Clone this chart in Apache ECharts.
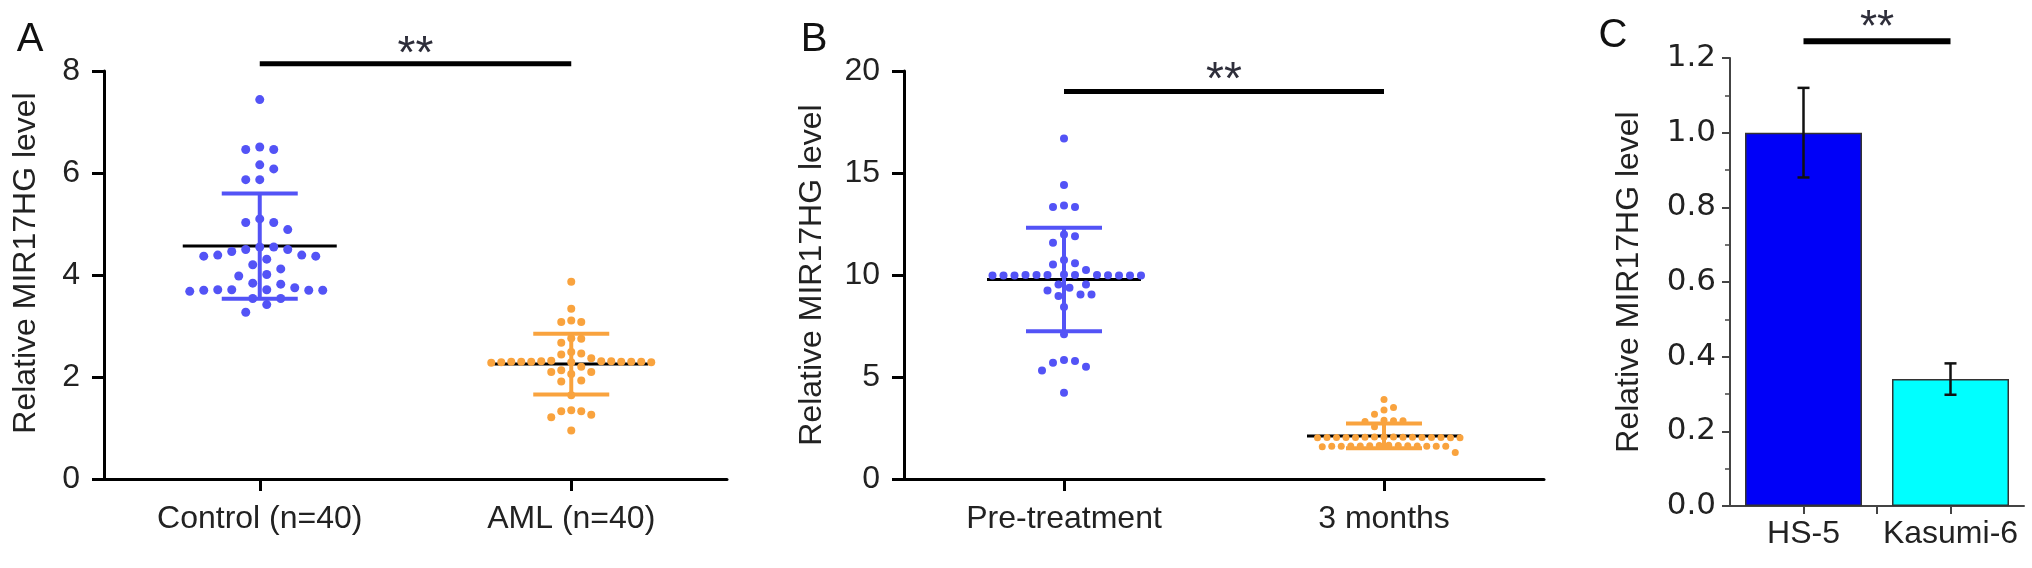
<!DOCTYPE html>
<html>
<head>
<meta charset="utf-8">
<title>Relative MIR17HG level</title>
<script src="https://cdn.jsdelivr.net/npm/echarts@6/dist/echarts.min.js"></script>
<style>
  html, body { margin: 0; padding: 0; background: #fff; }
  #main { width: 2032px; height: 568px; }
</style>
</head>
<body>
<div id="main"></div>
<script>
// ---- panel A: patients vs controls
var groupsA = ['Control (n=40)', 'AML (n=40)'];
var controlA = [7.44, 6.46, 6.46, 6.51, 6.08, 6.16, 5.87, 5.87, 5.10, 5.03,
  5.03, 4.89, 4.50, 4.46, 4.55, 4.55, 4.50, 4.39, 4.31, 4.37,
  4.37, 4.39, 4.12, 4.20, 3.98, 4.01, 3.84, 3.82, 3.68, 3.71,
  3.70, 3.71, 3.75, 3.70, 3.70, 3.71, 3.54, 3.42, 3.54, 3.27];
var amlA = [3.87, 3.34, 3.08, 3.11, 3.08, 2.75, 2.67, 2.76, 2.49, 2.46,
  2.44, 2.31, 2.30, 2.30, 2.29, 2.31, 2.30, 2.28, 2.30, 2.31,
  2.29, 2.30, 2.32, 2.30, 2.29, 2.37, 2.13, 2.20, 2.06, 2.10,
  2.10, 1.91, 1.93, 1.64, 1.33, 1.21, 1.26, 1.35, 1.33, 0.95];

// ---- panel B: before / after treatment
var groupsB = ['Pre-treatment', '3 months'];
var preB = [16.69, 14.41, 13.41, 13.33, 13.33, 11.58, 11.90, 11.99, 10.57, 10.73,
  10.52, 10.24, 10.00, 9.98, 9.97, 10.00, 10.02, 9.98, 10.00, 9.97,
  9.99, 10.00, 9.98, 9.97, 10.00, 9.54, 9.54, 9.37, 9.24, 9.05,
  9.05, 8.97, 8.43, 7.09, 5.78, 5.70, 5.50, 5.83, 5.32, 4.23];
var monthsB = [3.90, 3.51, 3.38, 3.17, 2.85, 2.88, 2.82, 2.86, 2.56,
  2.04, 2.06, 2.02, 2.05, 2.03, 2.04, 2.06, 2.02, 2.04, 2.05,
  2.03, 2.04, 2.06, 2.02, 2.04, 2.05,
  1.62, 1.60, 1.64, 1.61, 1.63, 1.58, 1.62, 1.65, 1.60, 1.63,
  1.61, 1.64, 1.62, 1.60, 1.30];

// ---- panel C: cell lines
var cellLines = ['HS-5', 'Kasumi-6'];
var cellMeans = [1.0, 0.34];
var cellErrs = [0.12, 0.042];

// height of the "**" bars, in each panel's axis units
var sigLevels = [8.14, 19.0, 1.245];

var FONT = '"Liberation Sans", Arial, Helvetica, sans-serif';
var BLUE = '#5353F6';
var ORANGE = '#F9A33E';
var TXT = '#222';

var grids = [
  { left: 104, top: 71, width: 623, height: 408 },
  { left: 904, top: 71, width: 640, height: 408 },
  { left: 1730, top: 58, width: 294, height: 448 }
];

function mean(a) {
  return a.reduce(function (s, v) { return s + v; }, 0) / a.length;
}
function sdev(a) {
  var m = mean(a);
  var ss = a.reduce(function (s, v) { return s + (v - m) * (v - m); }, 0);
  return Math.sqrt(ss / (a.length - 1));
}

// simple beeswarm: each dot goes to the free slot nearest the centre
function swarmOffsets(values, pxPerY, d) {
  var idx = values.map(function (v, i) { return i; });
  idx.sort(function (a, b) { return values[b] - values[a]; });
  var placed = [], off = [];
  idx.forEach(function (i) {
    var y = values[i] * pxPerY;
    for (var k = 0; k < 400; k++) {
      var s = k === 0 ? 0 : (k % 2 ? (k + 1) / 2 : -k / 2);
      var x = s * d / 2;
      var ok = placed.every(function (p) {
        var dx = p.x - x, dy = p.y - y;
        return dx * dx + dy * dy >= d * d - 0.01;
      });
      if (ok) { placed.push({ x: x, y: y }); off[i] = x; break; }
    }
  });
  return off;
}

function swarmSeries(gi, values, group, color, size, d, yRange) {
  var pxX = grids[gi].width / 2;
  var pxY = grids[gi].height / yRange;
  var off = swarmOffsets(values, pxY, d);
  return {
    type: 'scatter',
    xAxisIndex: gi,
    yAxisIndex: gi,
    symbolSize: size,
    itemStyle: { color: color, opacity: 1 },
    z: 3,
    silent: true,
    data: values.map(function (v, i) { return [group + off[i] / pxX, v]; })
  };
}

function meanLineSeries(gi, sets) {
  return {
    type: 'custom',
    xAxisIndex: gi,
    yAxisIndex: gi,
    z: 2,
    silent: true,
    data: sets.map(function (s, i) { return [i + 1, mean(s)]; }),
    renderItem: function (params, api) {
      var c = api.coord([api.value(0), api.value(1)]);
      return {
        type: 'line',
        shape: { x1: c[0] - 77, y1: c[1], x2: c[0] + 77, y2: c[1] },
        style: { stroke: '#000', lineWidth: 3 }
      };
    }
  };
}

function sdSeries(gi, sets, colors) {
  return {
    type: 'custom',
    xAxisIndex: gi,
    yAxisIndex: gi,
    z: 4,
    silent: true,
    data: sets.map(function (s, i) { return [i + 1, mean(s), sdev(s)]; }),
    renderItem: function (params, api) {
      var x = api.value(0), m = api.value(1), s = api.value(2);
      var hi = api.coord([x, m + s]);
      var lo = api.coord([x, m - s]);
      var st = { stroke: colors[params.dataIndex], lineWidth: 4 };
      return {
        type: 'group',
        children: [
          { type: 'line', shape: { x1: hi[0], y1: hi[1], x2: lo[0], y2: lo[1] }, style: st },
          { type: 'line', shape: { x1: hi[0] - 38, y1: hi[1], x2: hi[0] + 38, y2: hi[1] }, style: st },
          { type: 'line', shape: { x1: lo[0] - 38, y1: lo[1], x2: lo[0] + 38, y2: lo[1] }, style: st }
        ]
      };
    }
  };
}

function sigSeries(gi, level, width, gap, size) {
  return {
    type: 'custom',
    xAxisIndex: gi,
    yAxisIndex: gi,
    clip: false,
    silent: true,
    z: 5,
    data: [[1, 2, level]],
    renderItem: function (params, api) {
      var a = api.coord([api.value(0), api.value(2)]);
      var b = api.coord([api.value(1), api.value(2)]);
      return {
        type: 'group',
        children: [
          { type: 'line', shape: { x1: a[0], y1: a[1], x2: b[0], y2: b[1] }, style: { stroke: '#000', lineWidth: width } },
          { type: 'text', style: { text: '**', x: (a[0] + b[0]) / 2, y: a[1] - gap, font: size + 'px ' + FONT, fill: '#2E2E3A', align: 'center', verticalAlign: 'middle' } }
        ]
      };
    }
  };
}

function scatterXAxis(gi, names) {
  return {
    gridIndex: gi,
    type: 'value',
    min: 0.5,
    max: 2.5,
    axisLine: { onZero: false, lineStyle: { color: '#000', width: 3 } },
    axisTick: { customValues: [1, 2], length: 12, lineStyle: { color: '#000', width: 3 } },
    axisLabel: {
      customValues: [1, 2],
      formatter: function (v) { return names[Math.round(v) - 1]; },
      margin: 24, fontSize: 32, color: TXT, fontFamily: FONT
    },
    splitLine: { show: false }
  };
}

function scatterYAxis(gi, max, interval, gap, shift) {
  return {
    gridIndex: gi,
    type: 'value',
    min: 0,
    max: max,
    interval: interval,
    name: 'Relative MIR17HG level',
    nameLocation: 'middle',
    nameGap: gap,
    nameTextStyle: { fontSize: 32, color: TXT, fontFamily: FONT, padding: [0, 0, 0, shift] },
    axisLine: { show: true, lineStyle: { color: '#000', width: 3 } },
    axisTick: { show: true, length: 12, lineStyle: { color: '#000', width: 3 } },
    axisLabel: { margin: 24, fontSize: 32, color: TXT, fontFamily: FONT },
    splitLine: { show: false }
  };
}

var chart = echarts.init(document.getElementById('main'));

var option = {
  animation: false,
  backgroundColor: '#fff',
  grid: grids,
  graphic: [
    { type: 'text', x: 30, y: 40, style: { text: 'A', font: '40px ' + FONT, fill: '#111', align: 'center', verticalAlign: 'middle' } },
    { type: 'text', x: 814, y: 40, style: { text: 'B', font: '40px ' + FONT, fill: '#111', align: 'center', verticalAlign: 'middle' } },
    { type: 'text', x: 1613, y: 36, style: { text: 'C', font: '40px ' + FONT, fill: '#111', align: 'center', verticalAlign: 'middle' } }
  ],
  xAxis: [
    scatterXAxis(0, groupsA),
    scatterXAxis(1, groupsB),
    {
      gridIndex: 2,
      type: 'value',
      min: 0.5,
      max: 2.5,
      axisLine: { onZero: false, lineStyle: { color: '#444', width: 2 } },
      axisTick: { customValues: [1, 1.5, 2], length: 8, lineStyle: { color: '#444', width: 2 } },
      axisLabel: {
        customValues: [1, 2],
        formatter: function (v) { return cellLines[Math.round(v) - 1]; },
        margin: 12, fontSize: 32, color: TXT, fontFamily: FONT
      },
      splitLine: { show: false }
    }
  ],
  yAxis: [
    scatterYAxis(0, 8, 2, 62, 24),
    scatterYAxis(1, 20, 5, 76, 0),
    {
      gridIndex: 2,
      type: 'value',
      min: 0,
      max: 1.2,
      interval: 0.2,
      name: 'Relative MIR17HG level',
      nameLocation: 'middle',
      nameGap: 85,
      nameTextStyle: { fontSize: 32, color: TXT, fontFamily: FONT },
      axisLine: { show: true, lineStyle: { color: '#444', width: 2 } },
      axisTick: { show: true, length: 8, lineStyle: { color: '#444', width: 2 } },
      minorTick: { show: true, splitNumber: 2, length: 5, lineStyle: { color: '#444', width: 1.5 } },
      axisLabel: {
        formatter: function (v) { return v.toFixed(1); },
        margin: 14, fontSize: 31, color: TXT, fontFamily: '"DejaVu Sans", sans-serif'
      },
      splitLine: { show: false },
      minorSplitLine: { show: false }
    }
  ],
  series: [
    meanLineSeries(0, [controlA, amlA]),
    swarmSeries(0, controlA, 1, BLUE, 9, 14, 8),
    swarmSeries(0, amlA, 2, ORANGE, 8, 10, 8),
    sdSeries(0, [controlA, amlA], [BLUE, ORANGE]),
    sigSeries(0, sigLevels[0], 5, 9, 46),

    meanLineSeries(1, [preB, monthsB]),
    swarmSeries(1, preB, 1, BLUE, 8, 11, 20),
    swarmSeries(1, monthsB, 2, ORANGE, 7, 9.5, 20),
    sdSeries(1, [preB, monthsB], [BLUE, ORANGE]),
    sigSeries(1, sigLevels[1], 5, 10, 46),

    {
      type: 'bar',
      xAxisIndex: 2,
      yAxisIndex: 2,
      barWidth: 117,
      silent: true,
      itemStyle: { borderColor: '#333', borderWidth: 1.5 },
      data: cellMeans.map(function (v, i) {
        return { value: [i + 1, v], itemStyle: { color: ['#0000F8', '#00FFFF'][i] } };
      })
    },
    {
      type: 'custom',
      xAxisIndex: 2,
      yAxisIndex: 2,
      silent: true,
      z: 4,
      data: cellMeans.map(function (v, i) { return [i + 1, v, cellErrs[i]]; }),
      renderItem: function (params, api) {
        var x = api.value(0), m = api.value(1), e = api.value(2);
        var hi = api.coord([x, m + e]);
        var lo = api.coord([x, m - e]);
        var st = { stroke: '#111', lineWidth: 2.5 };
        return {
          type: 'group',
          children: [
            { type: 'line', shape: { x1: hi[0], y1: hi[1], x2: lo[0], y2: lo[1] }, style: st },
            { type: 'line', shape: { x1: hi[0] - 6, y1: hi[1], x2: hi[0] + 6, y2: hi[1] }, style: st },
            { type: 'line', shape: { x1: lo[0] - 6, y1: lo[1], x2: lo[0] + 6, y2: lo[1] }, style: st }
          ]
        };
      }
    },
    sigSeries(2, sigLevels[2], 6, 12, 44)
  ]
};

chart.setOption(option);

window.addEventListener('resize', function () {
  chart.resize();
});
</script>
</body>
</html>
